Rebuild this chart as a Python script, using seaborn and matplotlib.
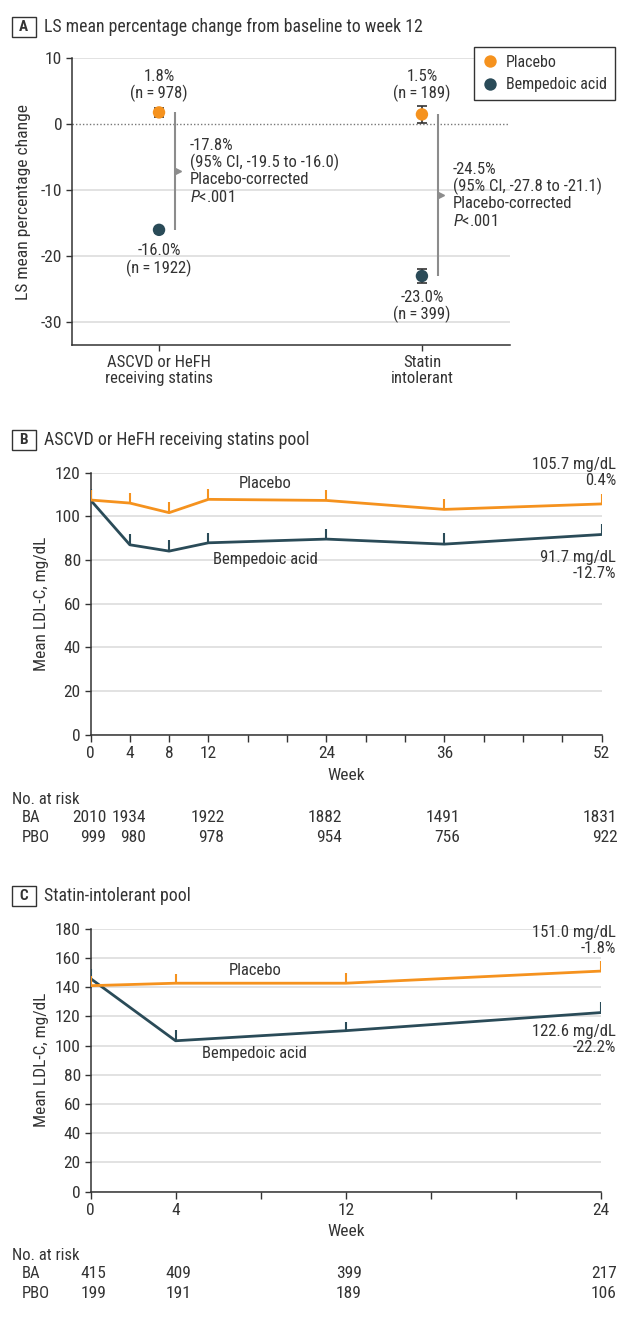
import numpy as np
import pandas as pd
import matplotlib.pyplot as plt
import seaborn as sns
from matplotlib.patches import Rectangle

# ---- Panel A: LS mean % change at week 12
groups = ['ASCVD or HeFH\nreceiving statins', 'Statin\nintolerant']
pbo_change = [1.8, 1.5]
ba_change = [-16.0, -23.0]
pbo_ci = [0.7, 1.3]
ba_ci = [0.5, 1.1]
pbo_n = [978, 189]
ba_n = [1922, 399]
diff_text = ['-17.8%\n(95% CI, -19.5 to -16.0)\nPlacebo-corrected\n$P$<.001',
             '-24.5%\n(95% CI, -27.8 to -21.1)\nPlacebo-corrected\n$P$<.001']

# ---- Panel B: ASCVD or HeFH receiving statins pool
weeks_b = [0, 4, 8, 12, 24, 36, 52]
pbo_b = [107.5, 106.1, 101.7, 107.8, 107.3, 103.2, 105.7]
ba_b = [107.5, 87.0, 84.1, 87.9, 89.6, 87.3, 91.7]
pbo_b_err = [4.7, 4.7, 4.9, 4.6, 4.7, 4.7, 4.6]
ba_b_err = [4.9, 4.9, 4.9, 4.7, 4.7, 5.2, 4.6]
labeled_weeks_b = [0, 4, 8, 12, 24, 36, 52]
end_b = ['105.7 mg/dL\n0.4%', '91.7 mg/dL\n-12.7%']
risk_weeks_b = [0, 4, 12, 24, 36, 52]
risk_ba_b = [2010, 1934, 1922, 1882, 1491, 1831]
risk_pbo_b = [999, 980, 978, 954, 756, 922]

# ---- Panel C: statin-intolerant pool
weeks_c = [0, 4, 12, 24]
pbo_c = [141.0, 142.7, 142.7, 151.0]
ba_c = [145.9, 103.3, 110.2, 122.6]
pbo_c_err = [6.6, 6.6, 6.8, 6.8]
ba_c_err = [6.8, 7.3, 6.2, 7.3]
labeled_weeks_c = [0, 4, 12, 24]
end_c = ['151.0 mg/dL\n-1.8%', '122.6 mg/dL\n-22.2%']
risk_weeks_c = [0, 4, 12, 24]
risk_ba_c = [415, 409, 399, 217]
risk_pbo_c = [199, 191, 189, 106]

ORANGE = '#F5921E'
TEAL = '#2A4B58'
TXT = '#333333'
GRID = '#DDDDDD'
pal = {'Placebo': ORANGE, 'Bempedoic acid': TEAL}

FS = 12      # body text
FS_NUM = 12.5  # tick labels, risk numbers

sns.set_style('ticks')
# condensed look; falls back to Roboto / DejaVu if a family is missing
plt.rcParams['font.family'] = ['Roboto Condensed', 'Roboto', 'DejaVu Sans']
plt.rcParams['font.stretch'] = 'condensed'
plt.rcParams['mathtext.fontset'] = 'custom'
plt.rcParams['mathtext.rm'] = 'Roboto Condensed'
plt.rcParams['mathtext.it'] = 'Roboto Condensed:italic'
plt.rcParams['axes.unicode_minus'] = False
plt.rcParams['font.size'] = FS
plt.rcParams['text.color'] = TXT
plt.rcParams['axes.labelcolor'] = TXT
plt.rcParams['xtick.color'] = TXT
plt.rcParams['ytick.color'] = TXT

W, H = 617, 1317
fig = plt.figure(figsize=(W / 100, H / 100), dpi=100)


def fx(px):
    return px / W


def fy(px):
    return 1 - px / H


def axes_px(left, top, right, bottom):
    return fig.add_axes([fx(left), fy(bottom), (right - left) / W, (bottom - top) / H])


def panel_title(letter, text, ypx):
    fig.add_artist(Rectangle((fx(12), fy(ypx + 10)), 23.5 / W, 20 / H, transform=fig.transFigure,
                             fill=False, ec=TXT, lw=1))
    fig.text(fx(23.7), fy(ypx), letter, ha='center', va='center', fontweight='bold', fontsize=11)
    fig.text(fx(44), fy(ypx), text, ha='left', va='center', fontsize=12.8)


def style_axes(ax):
    sns.despine(ax=ax)
    for s in ['left', 'bottom']:
        ax.spines[s].set_color(TXT)
        ax.spines[s].set_linewidth(1.1)
    ax.tick_params(length=4, width=1, pad=3, labelsize=FS_NUM)
    ax.grid(axis='y', color=GRID, lw=1.2)
    ax.set_axisbelow(True)


# ================= Panel A =================
panel_title('A', 'LS mean percentage change from baseline to week 12', 27)
axA = axes_px(72, 58.3, 510, 345.3)
style_axes(axA)

dfA = pd.DataFrame({
    'group': groups * 2,
    'pos': [0, 1, 0, 1],
    'change': pbo_change + ba_change,
    'ci': pbo_ci + ba_ci,
    'arm': ['Placebo'] * 2 + ['Bempedoic acid'] * 2,
})
axA.errorbar(dfA['pos'], dfA['change'], yerr=dfA['ci'], fmt='none', ecolor=TXT,
             elinewidth=1.2, capsize=3.5, capthick=1.2, zorder=3)
sns.scatterplot(data=dfA, x='pos', y='change', hue='arm', palette=pal, s=80,
                edgecolor='none', ax=axA, zorder=4)
axA.axhline(0, color='#777777', ls=(0, (1, 1.5)), lw=1, zorder=2)

pos = np.arange(len(groups))
off = 0.061
axA.vlines(pos + off, ba_change, pbo_change, color='#8C8C8C', lw=1.5)
mid = (np.array(pbo_change) + np.array(ba_change)) / 2
axA.plot(pos + off + 0.012, mid, ls='none', marker='>', ms=5, color='#8C8C8C')
for i in range(len(groups)):
    axA.text(pos[i] + 0.118, mid[i], diff_text[i], ha='left', va='center', linespacing=1.1,
             clip_on=False)
    axA.text(pos[i], 5.85, f'{pbo_change[i]:.1f}%\n(n\u2009=\u2009{pbo_n[i]})', ha='center',
             va='center', linespacing=1.1)
    axA.text(pos[i], ba_change[i] - 4.6, f'{ba_change[i]:.1f}%\n(n\u2009=\u2009{ba_n[i]})',
             ha='center', va='center', linespacing=1.1)

axA.set_xlim(-0.331, 1.335)
axA.set_ylim(-33.5, 10)
axA.set_yticks([10, 0, -10, -20, -30])
axA.set_xticks(pos)
axA.set_xticklabels(groups, linespacing=1.1, fontsize=FS)
axA.set_xlabel('')
axA.set_ylabel('LS mean percentage change', fontsize=12.6)
axA.yaxis.set_label_coords(-0.094, 0.5)
gl = axA.get_ygridlines()
gl[1].set_visible(False)

axA.legend(loc='upper left', bbox_to_anchor=(fx(474), fy(47)), bbox_transform=fig.transFigure,
           frameon=True, fancybox=False, edgecolor=TXT, framealpha=1, handlelength=1.0,
           handletextpad=0.5, borderpad=0.5, labelspacing=0.45, borderaxespad=0,
           fontsize=11.5, title=None)
axA.get_legend().get_frame().set_linewidth(1)


# ================= Panels B and C =================
def line_panel(ax, weeks, pbo, ba, pbo_err, ba_err, xmax, ymax, labeled, yticks):
    style_axes(ax)
    df = pd.DataFrame({
        'week': weeks * 2,
        'ldl': pbo + ba,
        'err': pbo_err + ba_err,
        'arm': ['Placebo'] * len(weeks) + ['Bempedoic acid'] * len(weeks),
    })
    sns.lineplot(data=df, x='week', y='ldl', hue='arm', palette=pal, lw=2, legend=False,
                 ax=ax, zorder=3, hue_order=['Bempedoic acid', 'Placebo'])
    for arm, sub in df.groupby('arm'):
        ax.vlines(sub['week'], sub['ldl'], sub['ldl'] + sub['err'], color=pal[arm], lw=1.5, zorder=3)
    ax.set_xlim(0, xmax)
    ax.set_ylim(0, ymax)
    ticks = list(range(0, xmax + 1, 4))
    ax.set_xticks(ticks)
    ax.set_xticklabels([str(t) if t in labeled else '' for t in ticks])
    ax.set_yticks(yticks)
    ax.tick_params(axis='x', length=5)
    ax.set_xlabel('Week', fontsize=12.5)
    ax.xaxis.label.set_va('center')
    ax.set_ylabel('Mean LDL-C, mg/dL', fontsize=12.4)
    ax.yaxis.set_label_coords(-0.082, 0.5)


def risk_table(ax, weeks, ba, pbo, ys):
    fig.text(fx(12), fy(ys[0]), 'No. at risk', ha='left', va='center')
    fig.text(fx(22), fy(ys[1]), 'BA', ha='left', va='center')
    fig.text(fx(22), fy(ys[2]), 'PBO', ha='left', va='center')
    for w, a, p in zip(weeks, ba, pbo):
        for val, y in [(a, ys[1]), (p, ys[2])]:
            ax.annotate(str(val), xy=(w, fy(y)), xycoords=('data', 'figure fraction'),
                        xytext=(11.5, 0), textcoords='offset points', ha='right', va='center',
                        annotation_clip=False, fontsize=FS_NUM)


# Panel B
panel_title('B', 'ASCVD or HeFH receiving statins pool', 440)
axB = axes_px(90.5, 472.7, 601.5, 734.8)
line_panel(axB, weeks_b, pbo_b, ba_b, pbo_b_err, ba_b_err, 52, 120, labeled_weeks_b,
           [0, 20, 40, 60, 80, 100, 120])
axB.xaxis.set_label_coords(0.5, -40.2 / 262.1)
axB.text(17.8, 115.2, 'Placebo', ha='center', va='center')
axB.text(17.8, 80.4, 'Bempedoic acid', ha='center', va='center')
fig.text(fx(616), fy(472.2), end_b[0], ha='right', va='center', multialignment='right', linespacing=1.1)
fig.text(fx(616), fy(565.5), end_b[1], ha='right', va='center', multialignment='right', linespacing=1.1)
risk_table(axB, risk_weeks_b, risk_ba_b, risk_pbo_b, [800, 818, 838])

# Panel C
panel_title('C', 'Statin-intolerant pool', 896)
axC = axes_px(90.5, 928.7, 601, 1191.7)
line_panel(axC, weeks_c, pbo_c, ba_c, pbo_c_err, ba_c_err, 24, 180, labeled_weeks_c,
           [0, 20, 40, 60, 80, 100, 120, 140, 160, 180])
axC.xaxis.set_label_coords(0.5, -40 / 263)
axC.text(7.73, 151.7, 'Placebo', ha='center', va='center')
axC.text(7.73, 94.9, 'Bempedoic acid', ha='center', va='center')
fig.text(fx(616), fy(940.3), end_c[0], ha='right', va='center', multialignment='right', linespacing=1.1)
fig.text(fx(616), fy(1039.5), end_c[1], ha='right', va='center', multialignment='right', linespacing=1.1)
risk_table(axC, risk_weeks_c, risk_ba_c, risk_pbo_c, [1256, 1274, 1294])

fig.savefig('out.png', dpi=100)
